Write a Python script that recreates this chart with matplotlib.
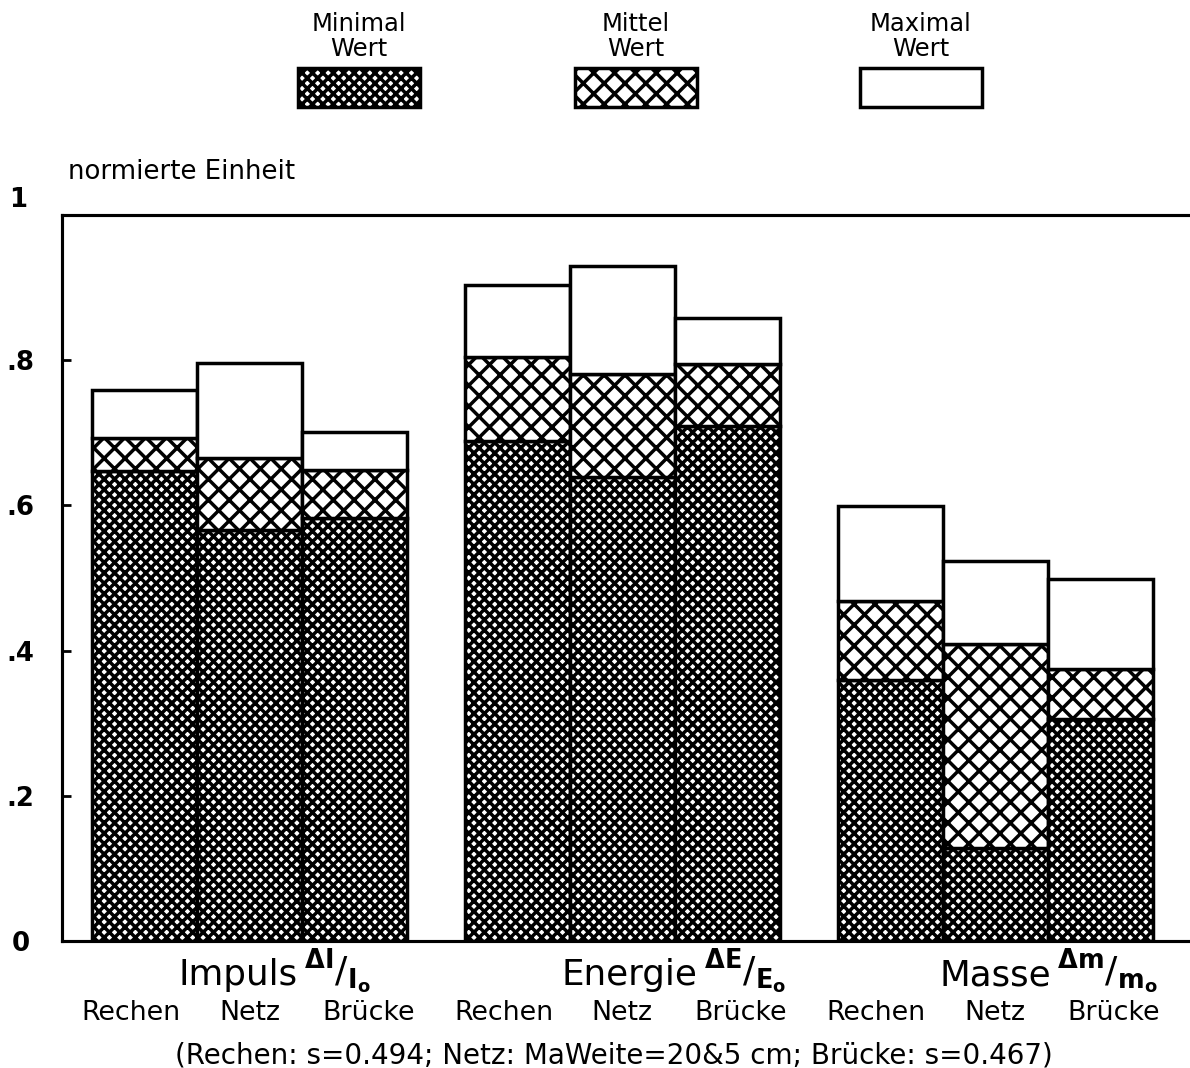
import matplotlib.pyplot as plt
import matplotlib.transforms as mtransforms
from matplotlib.patches import Rectangle

# values (normalised units)
groups = ["Impuls", "Energie", "Masse"]
group_fracs = [r"${}^{\mathbf{\Delta I}}/_{\mathbf{I}_{\mathbf{o}}}$",
               r"${}^{\mathbf{\Delta E}}/_{\mathbf{E}_{\mathbf{o}}}$",
               r"${}^{\mathbf{\Delta m}}/_{\mathbf{m}_{\mathbf{o}}}$"]
methods = ["Rechen", "Netz", "Brücke"]

min_vals = [[0.647, 0.566, 0.583], [0.689, 0.639, 0.709], [0.360, 0.128, 0.306]]
mid_vals = [[0.693, 0.665, 0.649], [0.804, 0.781, 0.795], [0.468, 0.409, 0.375]]
max_vals = [[0.759, 0.796, 0.701], [0.904, 0.930, 0.858], [0.599, 0.523, 0.499]]

legend_labels = ["Minimal\nWert", "Mittel\nWert", "Maximal\nWert"]
hatches = ["xxxx", "xx", ""]

y_ticks = [0, 0.2, 0.4, 0.6, 0.8]
y_ticklabels = ["0", ".2", ".4", ".6", ".8"]

caption = "(Rechen: s=0.494; Netz: MaWeite=20&5 cm; Brücke: s=0.467)"

plt.rcParams["font.family"] = ["DejaVu Sans"]
plt.rcParams["hatch.linewidth"] = 2.0
plt.rcParams["hatch.color"] = "black"

GROUP_STEP = 3.55
EDGE_LW = 2.0
name_shift = [0.46, 0.72, 0.53]   # where each group name ends, relative to the Netz bar

fig = plt.figure(figsize=(9.52, 8.544), dpi=125)
ax = fig.add_axes([0.0521, 0.1189, 0.9479, 0.6798])
xtrans = ax.get_xaxis_transform()

for g in range(len(groups)):
    for i in range(len(methods)):
        x = g * GROUP_STEP + i
        lows = [0, min_vals[g][i], mid_vals[g][i]]
        highs = [min_vals[g][i], mid_vals[g][i], max_vals[g][i]]
        for lo, hi, h in zip(lows, highs, hatches):
            ax.bar(x, hi - lo, bottom=lo, width=1.0, facecolor="white",
                   edgecolor="black", linewidth=EDGE_LW, hatch=h, zorder=2)
        ax.text(x + (i - 1) * 0.13, -0.099, methods[i], transform=xtrans,
                ha="center", va="center", fontsize=15.5)
    xn = g * GROUP_STEP + 1 + name_shift[g]
    ax.text(xn, -0.047, groups[g], transform=xtrans, ha="right", va="center",
            fontsize=20.5)
    ax.text(xn + 0.06, -0.042, group_fracs[g], transform=xtrans, ha="left",
            va="center", fontsize=21)

ax.set_xlim(-0.786, 9.957)
ax.set_ylim(0, 1)
ax.set_xticks([])
ax.set_yticks(y_ticks)
ax.set_yticklabels(y_ticklabels, fontsize=15, fontweight="bold")
ax.tick_params(axis="y", direction="in", length=5, width=1.6, pad=24)
for lbl in ax.get_yticklabels():
    lbl.set_ha("center")

for side in ["left", "top", "bottom"]:
    ax.spines[side].set_linewidth(1.8)
ax.spines["right"].set_visible(False)

trans = mtransforms.blended_transform_factory(fig.transFigure, ax.transData)
ax.text(0.0151, 1.021, "1", transform=trans, ha="center", va="center",
        fontsize=15, fontweight="bold")

fig.text(0.057, 0.839, "normierte Einheit", ha="left", va="center", fontsize=15)

ax.text(0.489, -0.157, caption, transform=ax.transAxes, ha="center", va="center",
        fontsize=16)

# legend boxes above the plot
box_x = [0.2504, 0.4832, 0.7227]
for bx, lab, h in zip(box_x, legend_labels, hatches):
    fig.add_artist(Rectangle((bx, 0.8998), 0.1025, 0.0365, transform=fig.transFigure,
                             facecolor="white", edgecolor="black",
                             linewidth=EDGE_LW, hatch=h))
    fig.text(bx + 0.0512, 0.966, lab, ha="center", va="center", fontsize=14,
             linespacing=1.05)

fig.savefig("out.png", dpi=125)
